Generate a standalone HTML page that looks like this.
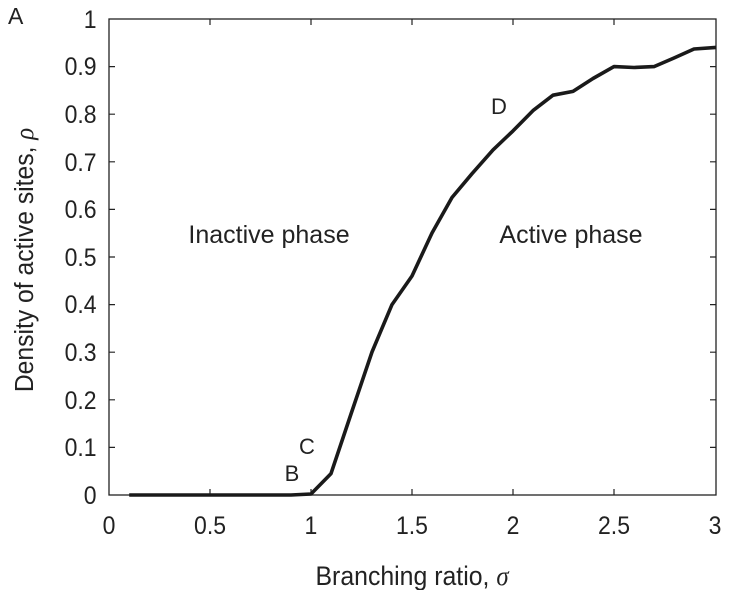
<!DOCTYPE html>
<html><head><meta charset="utf-8"><style>
body{margin:0;background:#fff}
text{font-family:"Liberation Sans",sans-serif;fill:#222}
</style></head><body>
<svg width="735" height="590" viewBox="0 0 735 590" xmlns="http://www.w3.org/2000/svg">
<rect x="109" y="19" width="607" height="476" fill="none" stroke="#222" stroke-width="1.3"/>
<g stroke="#222" stroke-width="1.2">
<path d="M210 495v-6M311 495v-6M412 495v-6M513 495v-6M614 495v-6M210 19v6M311 19v6M412 19v6M513 19v6M614 19v6"/>
<path d="M109 447.4h6M109 399.8h6M109 352.2h6M109 304.6h6M109 257h6M109 209.4h6M109 161.8h6M109 114.2h6M109 66.6h6M716 447.4h-6M716 399.8h-6M716 352.2h-6M716 304.6h-6M716 257h-6M716 209.4h-6M716 161.8h-6M716 114.2h-6M716 66.6h-6"/>
</g>
<g font-size="25" text-anchor="middle" transform="scale(0.92,1)">
<text x="118.5" y="534">0</text><text x="228.3" y="534">0.5</text><text x="338" y="534">1</text><text x="447.8" y="534">1.5</text><text x="557.6" y="534">2</text><text x="667.4" y="534">2.5</text><text x="777.2" y="534">3</text>
</g>
<g font-size="25" text-anchor="end" transform="scale(0.92,1)">
<text x="105" y="504">0</text><text x="105" y="456">0.1</text><text x="105" y="409">0.2</text><text x="105" y="361">0.3</text><text x="105" y="313">0.4</text><text x="105" y="266">0.5</text><text x="105" y="218">0.6</text><text x="105" y="171">0.7</text><text x="105" y="123">0.8</text><text x="105" y="75">0.9</text><text x="105" y="28">1</text>
</g>
<text x="8" y="24" font-size="23">A</text>
<text x="412" y="585" font-size="27" text-anchor="middle" transform="translate(33,0) scale(0.92,1)">Branching ratio, <tspan font-family="Liberation Serif" font-style="italic">σ</tspan></text>
<text transform="translate(33,260) rotate(-90) scale(0.95,1)" font-size="26" text-anchor="middle">Density of active sites, <tspan font-family="Liberation Serif" font-style="italic">ρ</tspan></text>
<text x="269" y="243" font-size="25" text-anchor="middle">Inactive phase</text>
<text x="571" y="243" font-size="25" text-anchor="middle">Active phase</text>
<text x="499" y="114" font-size="22" text-anchor="middle">D</text>
<text x="307" y="454" font-size="22" text-anchor="middle">C</text>
<text x="292" y="481" font-size="22" text-anchor="middle">B</text>
<polyline fill="none" stroke="#1a1a1a" stroke-width="3.6" stroke-linejoin="round" points="129.2,495 291,495 311,494 331,473.6 351,414 372,352 392,304.6 412,276 432,233 452,197.5 472,173.7 493,149.9 513,130.9 533,110.6 553,95.2 573,91.4 593,78.5 614,66.6 634,67.5 654,66.6 674,58 694,49 716,47.4"/>
</svg>
</body></html>
